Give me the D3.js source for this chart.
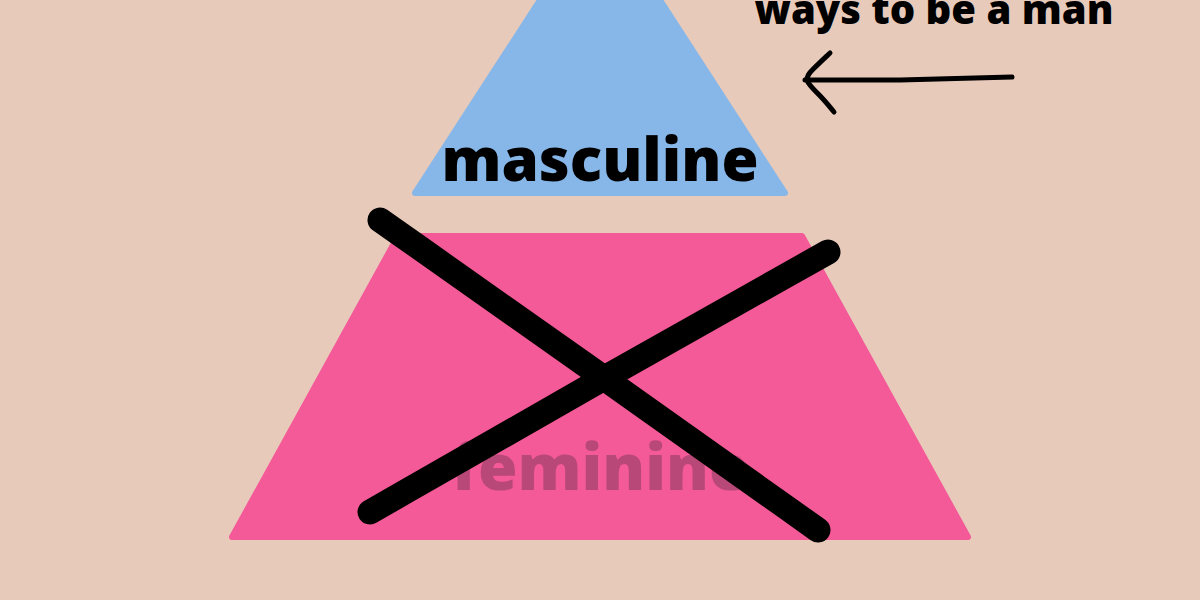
<!DOCTYPE html>
<html><head><meta charset="utf-8">
<script src="https://cdn.jsdelivr.net/npm/d3@7"></script>
<style>body{margin:0;background:#e8cabb}</style>
</head><body>
<div id="chart"></div>
<script>
// pyramid levels, top to bottom
const levels = ["masculine", "feminine"];
const levelTop = [0, 236];
const levelBottom = [193, 537];
const topHalfWidth = [60, 202];
const bottomHalfWidth = [185, 368];
const levelColors = ["#86b7e8", "#f45a97"];
const labelColors = ["#000000", "#b84877"];
const annotation = "ways to be a man";

const width = 1200, height = 600;
const svg = d3.select("#chart").append("svg")
    .attr("width", width).attr("height", height);
svg.append("rect").attr("width", width).attr("height", height).attr("fill", "#e8cabb");

const cx = 600;
const font = "'Open Sans', sans-serif";

levels.forEach((name, i) => {
    const t = levelTop[i], b = levelBottom[i];
    const hw = d3.scaleLinear().domain([t, b]).range([topHalfWidth[i], bottomHalfWidth[i]]);
    const pts = [[cx - hw(t - 20), t - 20], [cx + hw(t - 20), t - 20],
                 [cx + hw(b), b], [cx - hw(b), b]];
    if (i > 0) { pts[0] = [cx - hw(t), t]; pts[1] = [cx + hw(t), t]; }
    svg.append("path")
        .attr("d", d3.line()(pts) + "Z")
        .attr("fill", levelColors[i])
        .attr("stroke", levelColors[i])
        .attr("stroke-width", 6)
        .attr("stroke-linejoin", "round");
});

svg.append("text").attr("x", cx).attr("y", 181)
    .attr("text-anchor", "middle")
    .attr("font-family", font).attr("font-weight", 800)
    .attr("font-size", 60).attr("fill", labelColors[0]).text(levels[0]);
svg.append("text").attr("x", cx).attr("y", 490)
    .attr("text-anchor", "middle")
    .attr("font-family", font).attr("font-weight", 800)
    .attr("font-size", 64).attr("fill", labelColors[1]).text(levels[1]);

// cross-out strokes
const line = d3.line().curve(d3.curveBasis);
svg.append("path").attr("d", line([[380, 220], [600, 375], [818, 530]]))
    .attr("stroke", "#000").attr("stroke-width", 25).attr("fill", "none").attr("stroke-linecap", "round");
svg.append("path").attr("d", line([[370, 512], [600, 380], [828, 252]]))
    .attr("stroke", "#000").attr("stroke-width", 25).attr("fill", "none").attr("stroke-linecap", "round");

// annotation + arrow
svg.append("text").attr("x", 934).attr("y", 24)
    .attr("text-anchor", "middle")
    .attr("font-family", font).attr("font-weight", 800)
    .attr("font-size", 40).attr("fill", "#000").text(annotation);
svg.append("path").attr("d", d3.line()([[1012, 77], [900, 80], [805, 80]]))
    .attr("stroke", "#000").attr("stroke-width", 5).attr("fill", "none").attr("stroke-linecap", "round");
svg.append("path").attr("d", d3.line().curve(d3.curveBasis)([[830, 53], [812, 70], [803, 80], [820, 95], [834, 112]]))
    .attr("stroke", "#000").attr("stroke-width", 5).attr("fill", "none").attr("stroke-linecap", "round");
</script>
</body></html>
